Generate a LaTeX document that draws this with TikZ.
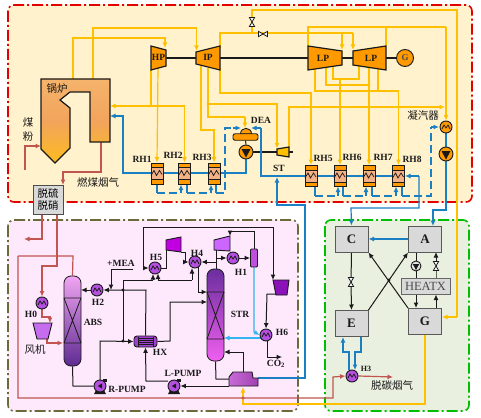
\documentclass[tikz,border=0pt]{standalone}
\usepackage{fontspec}
\setmainfont{Liberation Serif}
\newfontfamily\cjk{Noto Sans CJK SC}
\usetikzlibrary{arrows.meta,calc}
\pgfdeclarelayer{panel}
\pgfdeclarelayer{pipes}
\pgfsetlayers{panel,pipes,main}
\definecolor{yp}{HTML}{FFC000}
\definecolor{bp}{HTML}{1B7FC4}
\definecolor{lbp}{HTML}{33B5F0}
\definecolor{rp}{HTML}{C0564F}
\definecolor{orng}{HTML}{FF9900}
\definecolor{pur}{HTML}{B44FE0}
\definecolor{ink}{HTML}{1A1A1A}
\definecolor{boilA}{HTML}{F5B36B}
\definecolor{boilB}{HTML}{FDBB1F}
\definecolor{boilC}{HTML}{F2A45C}
\definecolor{fanA}{HTML}{C56CEF}
\definecolor{fanB}{HTML}{8A12B8}
\definecolor{compA}{HTML}{C000E0}
\definecolor{compB}{HTML}{CC66FF}
\definecolor{sepc}{HTML}{C04FE0}
\definecolor{hxcol}{HTML}{A040D0}
\definecolor{rebA}{HTML}{C86BD8}
\definecolor{rebB}{HTML}{A040B0}
\definecolor{colP}{HTML}{F0A5F2}
\definecolor{colD}{HTML}{5E2A91}
\definecolor{colE}{HTML}{6B2E9E}
\definecolor{colM}{HTML}{F060F0}
\definecolor{pTop}{HTML}{FFF2CC}
\definecolor{pLeft}{HTML}{FDE8FC}
\definecolor{pRight}{HTML}{E9F0DF}
\definecolor{rhmid}{HTML}{F4B183}
\definecolor{olv}{HTML}{6B6B3A}
\tikzset{
 >={Latex[length=5.5pt,width=5pt]},
 panelbox/.style={line width=1.6pt,rounded corners=6pt,dash pattern=on 11pt off 3pt on 2pt off 3pt},
 ypipe/.style={draw=yp,line width=1.2pt},
 bpipe/.style={draw=bp,line width=1.2pt},
 bdash/.style={draw=bp,line width=1.2pt,dash pattern=on 8pt off 4pt},
 lpipe/.style={draw=lbp,line width=1.2pt},
 rpipe/.style={draw=rp,line width=1.2pt},
 kpipe/.style={draw=ink,line width=1pt},
 lab/.style={font=\bfseries\fontsize{9.5}{10}\selectfont,text=ink,inner sep=0pt},
 cn/.style={font=\cjk\fontsize{10.5}{12}\selectfont,text=ink,inner sep=0pt},
 turb/.style={draw=ink,line width=1.2pt,fill=orng,line join=miter},
 rhbox/.style={draw=ink,line width=1pt,fill=orng,minimum width=12pt,minimum height=21pt,inner sep=0pt},
 hxc/.style={circle,draw=ink,line width=.9pt,minimum size=12pt,inner sep=0pt},
 unit/.style={draw=black!65,line width=1pt,fill=black!15,minimum width=33pt,minimum height=26pt,inner sep=0pt,font=\bfseries\fontsize{13}{14}\selectfont,text=ink},
}
\newcommand{\coil}[1]{\draw[line width=.7pt,ink] ([shift={(-4,2)}]#1.center) -- ++(2,-4) -- ++(2,3) -- ++(2,-3) -- ++(2,4);}
\newcommand{\hexch}[4]{\node[hxc,fill=#4] (#1) at (#2,#3) {};\coil{#1}}
\newcommand{\rhx}[3]{\node[rhbox] (#1) at (#2,#3) {};
 \fill[rhmid,draw=ink,line width=.5pt] ([shift={(-6,-6)}]#1.center) rectangle ([shift={(6,6)}]#1.center);
 \draw[line width=.7pt,ink] ([shift={(-6,2)}]#1.center) -- ++(3,-5) -- ++(2.5,5) -- ++(3,-5) -- ++(2.5,4);}
\newcommand{\vvalve}[3]{\coordinate (#1) at (#2,#3);
 \draw[ink,line width=.8pt,fill=white] ([shift={(-2.6,-4.5)}]#1) -- ++(5.2,0) -- ++(-5.2,9) -- ++(5.2,0) -- cycle;}
\newcommand{\hvalve}[3]{\coordinate (#1) at (#2,#3);
 \draw[ink,line width=.8pt,fill=white] ([shift={(-4.5,-2.6)}]#1) -- ++(0,5.2) -- ++(9,-5.2) -- ++(0,5.2) -- cycle;}
\newcommand{\jn}[3]{\fill[#1] (#2,#3) circle (1.7pt);}
\newcommand{\pumpo}[4]{\node[hxc,minimum size=14pt,fill=#4] (#1) at (#2,#3) {};
 \fill[ink] ([shift={(-4.5,-3)}]#1.center) -- ++(9,0) -- ++(-4.5,8.5) -- cycle;}
\newcommand{\pumpp}[3]{\fill[ink] (#2+3,#3-7) rectangle (#2+7,#3-4);
 \fill[ink] (#2-6,#3+8) -- (#2+6,#3+8) -- (#2+4,#3+4) -- (#2-4,#3+4) -- cycle;
 \node[hxc,fill=pur] (#1) at (#2,#3) {};
 \fill[ink] ([shift={(2,-2.5)}]#1.center) -- ++(0,5) -- ++(-4.2,-2.5) -- cycle;}
\begin{document}
\begin{tikzpicture}[x=1pt,y=-1pt]
\useasboundingbox (0,0) rectangle (481,417);
\begin{pgfonlayer}{panel}
\fill[white] (0,0) rectangle (481,417);
\draw[panelbox,draw=red!90!black,fill=pTop] (8,5) rectangle (472,202);
\draw[panelbox,draw=olv,fill=pLeft] (8,220) rectangle (298,411);
\draw[panelbox,draw=green!75!black,fill=pRight] (325,220) rectangle (469,411);
\end{pgfonlayer}

% ---------- boiler ----------
\draw[draw=ink,line width=1.2pt,top color=boilA,bottom color=boilB,middle color=boilC]
 (41,79) -- (110,79) -- (110,142) -- (90,142) -- (90,92) -- (70,92) -- (60,100) -- (70,108) -- (70,148) -- (55,163) -- (41,149) -- cycle;
\node[cn] (boilerlab) at (57,89) {锅炉};
\node[cn] (coal) at (28,129.5) {\shortstack{煤\\[2pt]粉}};
\coordinate (boilerA) at (73,79);
\coordinate (boilerB) at (93,79);
\coordinate (boilerIn) at (110,106);
\coordinate (boilerW) at (110,116);
\coordinate (boilerC) at (41,146);
\coordinate (coalS) at (25,170);
\coordinate (boilerO) at (101,142);

% ---------- turbines ----------
\draw[turb] (151,46) -- (166,50) -- (166,66) -- (151,70) -- cycle;
\node[lab] (HP) at (158.5,57.5) {HP};
\draw[turb] (196,52) -- (220,46) -- (220,70) -- (196,64) -- cycle;
\node[lab] (IP) at (208,57.5) {IP};
\draw[turb] (308,46) -- (342,51) -- (342,65) -- (308,70) -- cycle;
\node[lab] (LPa) at (323,58) {LP};
\draw[turb] (353,51) -- (386,46) -- (386,70) -- (353,65) -- cycle;
\node[lab] (LPb) at (371,58) {LP};
\node[hxc,minimum size=17pt,fill=orng,font=\bfseries\fontsize{9}{10}\selectfont,text=black!70] (G) at (405,58) {G};
\draw[turb,fill=yp] (277,149) -- (289,147) -- (289,157) -- (277,155) -- cycle;
\coordinate (ST) at (283,152);
\node[lab] (STlab) at (279,168) {ST};

% ---------- regenerators ----------
\rhx{RHa}{157}{173.5}\rhx{RHb}{184.5}{173.5}\rhx{RHc}{214}{173.5}
\rhx{RHe}{311}{176}\rhx{RHf}{340}{176}\rhx{RHg}{369}{176}\rhx{RHh}{398.5}{176}
\node[lab] at (142,159) {RH1};
\node[lab] at (173,155) {RH2};
\node[lab] at (202,157) {RH3};
\node[lab] at (323,158) {RH5};
\node[lab] at (352,157) {RH6};
\node[lab] at (383,157) {RH7};
\node[lab] at (412,159) {RH8};

% ---------- DEA ----------
\draw[draw=ink,line width=.9pt,fill=orng] (240.5,134) .. controls (240.5,126.5) and (251.5,126.5) .. (251.5,134) -- cycle;
\node[draw=ink,line width=.9pt,fill=orng,rounded corners=2pt,minimum width=25pt,minimum height=6.5pt,inner sep=0pt] (DEA) at (245.5,137) {};
\node[lab] (DEAlab) at (261,120) {DEA};
\pumpo{Pa}{246}{152}{orng}
\pumpo{Pb}{446}{154}{orng}
\hexch{COND}{446}{127}{orng}
\node[cn] (condlab) at (423,116) {凝汽器};

% ---------- desulfurisation ----------
\node[draw=black!70,line width=1pt,fill=black!15,minimum width=30pt,minimum height=29pt,inner sep=0pt,
      font=\cjk\fontsize{10.5}{12.5}\selectfont,align=center] (DS) at (48,199.5) {脱硫\\脱硝};
\node[cn] (fluelab) at (98,182) {燃煤烟气};

% ---------- valves ----------
\vvalve{Va}{252}{22}
\hvalve{Vb}{263}{34}
\vvalve{Vc}{351}{282}
\vvalve{Vd}{436}{266}

% ---------- CCS equipment ----------
\node[rounded corners=7pt,draw=ink,line width=.8pt,top color=colP,bottom color=colD,minimum width=17pt,minimum height=90pt,inner sep=0pt] (ABS) at (72.5,321) {};
\draw[ink,line width=.8pt] (64,298) -- (81,298) (64,343) -- (81,343) (64,298) -- (81,343) (81,298) -- (64,343);
\node[lab] (ABSlab) at (93,322) {ABS};
\node[rounded corners=7pt,draw=ink,line width=.8pt,top color=colE,bottom color=colM,minimum width=17pt,minimum height=92pt,inner sep=0pt] (STR) at (215.5,315) {};
\draw[ink,line width=.8pt] (207,292) -- (224,292) (207,339) -- (224,339) (207,292) -- (224,339) (224,292) -- (207,339);
\node[lab] (STRlab) at (240,314) {STR};
\hexch{H0}{42}{303}{pur}
\node[lab] at (31,314) {H0};
\hexch{H2}{97}{290}{pur}
\node[lab] at (98,302) {H2};
\hexch{H5}{155}{268}{pur}
\node[lab] at (156,257) {H5};
\hexch{H4}{195}{262}{pur}
\node[lab] at (197,253) {H4};
\hexch{H1}{233}{258}{pur}
\node[lab] at (241,272) {H1};
\hexch{H6}{266}{335}{pur}
\node[lab] at (282,332) {H6};
\hexch{H3}{352}{376}{pur}
\node[lab,font=\bfseries\fontsize{8}{9}\selectfont] at (366,369) {H3};
\draw[draw=ink,line width=.9pt,fill=fanA] (33,323) -- (52,323) -- (48,339) -- (37,339) -- cycle;
\coordinate (FANa) at (42.5,331);
\node[cn] (fanlab) at (35,350) {风机};
\draw[draw=ink,line width=.9pt,fill=fanB] (273,280) -- (289,280) -- (287,295) -- (276,295) -- cycle;
\coordinate (FANb) at (281,287);
\draw[draw=ink,line width=.9pt,fill=compA] (166,240) -- (181,237) -- (181,252) -- (166,250) -- cycle;
\draw[draw=ink,line width=.9pt,fill=compB] (214,240) -- (230,236) -- (230,251) -- (214,250) -- cycle;
\node[draw=ink,line width=.9pt,fill=sepc,minimum width=7pt,minimum height=18pt,inner sep=0pt,rounded corners=1pt] (SEP) at (254,258) {};
\node[draw=ink,line width=.9pt,fill=hxcol,rounded corners=3pt,minimum width=23pt,minimum height=11pt,inner sep=0pt] (HX) at (145.5,341.5) {};
\draw[ink,line width=.6pt] (138,336.5) -- (138,346.5) (153,336.5) -- (153,346.5) (138,338.5) -- (153,338.5) (138,340.5) -- (153,340.5) (138,342.5) -- (153,342.5) (138,344.5) -- (153,344.5);
\node[lab] (HXlab) at (160,352) {HX};
\pumpp{Rp}{100}{386}
\node[lab] (Rplab) at (127,389) {R-PUMP};
\pumpp{Lp}{174}{386}
\node[lab] (Lplab) at (183,373) {L-PUMP};
\draw[draw=ink,line width=.9pt,left color=rebA,right color=rebB] (229,377) -- (233,372) -- (252,372) -- (253,378) -- (258,378) -- (258,386) -- (229,386) -- cycle;
\coordinate (REB) at (243,379);
\node[lab] (CO2) at (276,364) {CO\textsubscript{2}};
\node[lab] (mea) at (121,263) {+MEA};

% ---------- CO2 units ----------
\node[unit] (C) at (351.5,239) {C};
\node[unit] (A) at (425,239) {A};
\node[unit] (E) at (351.5,323.5) {E};
\node[unit] (Gg) at (425,321.5) {G};
\node[draw=black!60,line width=1pt,fill=black!15,minimum width=49pt,minimum height=16pt,inner sep=0pt,font=\fontsize{12.5}{13}\selectfont,text=black!70] (HEATX) at (425.5,286) {HEATX};
\node[hxc,minimum size=10pt,fill=black!10] (Pc) at (416,266) {};
\fill[ink] (412.8,264) -- (419.2,264) -- (416,270) -- cycle;
\node[cn] (declab) at (392,386) {脱碳烟气};

\begin{pgfonlayer}{pipes}
% ---------- shafts ----------
\draw[kpipe,line width=1.2pt] (166,58) -- (196,58);
\draw[kpipe,line width=1.2pt] (220,58) -- (308,58);
\draw[kpipe,line width=1.2pt] (342,58) -- (353,58);
\draw[kpipe,line width=1.2pt] (386,58) -- (G.west);
\draw[kpipe,line width=1.2pt] (Pa.east) -- (277,152) (289,152) -- (293,152);
\draw[kpipe] (DEA.south) -- (Pa.north);
% ---------- steam (yellow) ----------
\draw[ypipe,->] (boilerA) -- (73,38) -- (165,38) -- (165,48);
\draw[ypipe,->] (boilerB) -- (93,28) -- (196.5,28) -- (196.5,51);
\draw[ypipe] (151,70) -- (151,106);
\draw[ypipe,->] (158,68) -- (RHa.north);
\draw[ypipe,->] (184.5,106) -- (boilerIn);
\draw[ypipe,->] (184.5,106) -- (RHb.north);
\draw[ypipe,->] (201,66) -- (201,130) -- (214,130) -- (RHc.north);
\draw[ypipe] (208,68) -- (208,117) -- (245,117);
\draw[ypipe,->] (245,117) -- (245,128);
\draw[ypipe,->] (208,104) -- (277,104) -- (277,148.5);
\draw[ypipe,->] (220,68) -- (220,93) -- (311,93) -- (RHe.north);
\draw[ypipe] (220,48) -- (220,33) -- (353,33);
\draw[ypipe,->] (342,33) -- (342,50);
\draw[ypipe,->] (353,33) -- (353,50);
\draw[ypipe] (308,46) -- (308,27) -- (446,27);
\draw[ypipe] (386,46) -- (386,27);
\draw[ypipe,->] (446,27) -- (COND.north);
\draw[ypipe] (252,33) -- (Va) -- (252,10) -- (457,10) -- (457,317);
\draw[ypipe,->] (457,317) -- (442,317);
\draw[ypipe] (315,68) -- (315,91) -- (378,91) -- (378,68);
\draw[ypipe] (326,68) -- (326,85) -- (369,85);
\draw[ypipe] (333,66) -- (333,79) -- (359,79) -- (359,66);
\draw[ypipe,->] (340,79) -- (RHf.north);
\draw[ypipe,->] (369,66) -- (RHg.north);
\draw[ypipe,->] (378,91) -- (398.5,91) -- (RHh.north);
\draw[ypipe,->] (289,148) -- (289,107) -- (445,107);
\draw[ypipe,->] (Gg.south) -- (425,404) -- (243,404) -- (243,387);
\jn{yp}{93}{38}\jn{yp}{158}{106}\jn{yp}{208}{104}\jn{yp}{308}{33}
\jn{yp}{340}{85}\jn{yp}{340}{91}\jn{yp}{369}{91}\jn{yp}{369}{85}
\jn{yp}{311}{107}\jn{yp}{340}{107}\jn{yp}{369}{107}\jn{yp}{398.5}{107}
% ---------- water (blue) ----------
\draw[bpipe,->] (Pa.south) -- (246,173) -- (123,173) -- (123,116) -- (boilerW);
\draw[bpipe,->] (419,176) -- (405,176);
\draw[bpipe,->] (419,176) -- (419,208) -- (351,208) -- (C.north);
\draw[bpipe] (405,176) -- (261,176) -- (261,128);
\draw[bpipe,->] (261,128) -- (251,128);
\draw[bpipe,->] (258,378) -- (305,378) -- (305,205) -- (277,205) -- (277,177);
\draw[bpipe] (COND.south) -- (Pb.north);
\draw[bpipe,->] (Pb.south) -- (446,210) -- (433,210) -- (433,226);
\draw[bpipe,->] (A.west) -- (C.east);
% extraction drains, left group
\draw[bpipe] (157,184) -- (157,193);
\draw[bdash] (157,193) -- (181,193);
\draw[bpipe,->] (181,193) -- (181,184.5);
\draw[bpipe] (187,184) -- (187,193);
\draw[bdash] (187,193) -- (211,193);
\draw[bpipe,->] (211,193) -- (211,184.5);
\draw[bpipe] (216,184) -- (216,193);
\draw[bdash] (216,193) -- (225,193) -- (225,128) -- (233,128);
\draw[bpipe,->] (233,128) -- (241,128);
\jn{bp}{225}{173}
% extraction drains, right group
\draw[bpipe] (315,186) -- (315,196);
\draw[bdash] (315,196) -- (338,196);
\draw[bpipe,->] (338,196) -- (338,186.5);
\draw[bpipe] (343,186) -- (343,196);
\draw[bdash] (343,196) -- (366,196);
\draw[bpipe,->] (366,196) -- (366,186.5);
\draw[bpipe] (372,186) -- (372,196);
\draw[bdash] (372,196) -- (396,196);
\draw[bpipe,->] (396,196) -- (396,186.5);
\draw[bpipe] (402,186) -- (402,196);
\draw[bdash] (402,196) -- (431,196) -- (431,127);
\draw[bpipe,->] (431,127) -- (439,127);
% ---------- flue gas (red) ----------
\draw[rpipe,->] (coalS) -- (25,146) -- (boilerC);
\draw[rpipe,->] (boilerO) -- (101,172) -- (63,172) -- (63,185);
\draw[rpipe,->] (42,214) -- (42,239) -- (24,239);
\draw[rpipe,->] (57,214) -- (57,266) -- (42,266) -- (H0.north);
\draw[rpipe] (18,256) -- (73,256) -- (ABS.north);
\draw[rpipe,->] (18,256) -- (18,398) -- (333,398) -- (333,377) -- (H3.west);
\draw[rpipe,->] (H0.south) -- (42,317) -- (50,317) -- (50,323);
\draw[rpipe,->] (47,339) -- (47,343) -- (63,343);
\draw[rpipe,->] (H3.east) -- (393,377);
\jn{rp}{57}{256}\jn{rp}{243}{398}
% ---------- solvent loop (black) ----------
\draw[kpipe] (ABS.south) -- (73,386) -- (Rp.west);
\draw[kpipe,->] (100,380) -- (100,341) -- (HX.west);
\draw[kpipe] (123,341) -- (123,280) -- (153,280);
\draw[kpipe,->] (153,280) -- (153,274);
\draw[kpipe,->] (HX.north) -- (146,290) -- (H2.east);
\draw[kpipe,->] (H2.west) -- (81,290);
\draw[kpipe,->] (133,269) -- (111,269) -- (111,290);
\draw[kpipe,->] (168,381) -- (146,381) -- (HX.south);
\draw[kpipe,->] (229,386) -- (Lp.east);
\draw[kpipe,->] (243,372) -- (243,352) -- (224,352);
\draw[kpipe] (STR.south) -- (216,379) -- (229,379);
\draw[kpipe,->] (HX.east) -- (170,341) -- (170,302) -- (207,302);
\draw[kpipe] (H5.east) -- (166,268) -- (166,250);
\draw[kpipe,->] (181,252) -- (185,252) -- (185,262) -- (H4.west);
\draw[kpipe,->] (192,280) -- (192,268);
\draw[kpipe,->] (192,280) -- (158,280) -- (158,273.5);
\draw[kpipe,->] (216,262) -- (H4.east);
\draw[kpipe] (216,269) -- (216,250);
\draw[kpipe,->] (216,258) -- (H1.west);
\draw[kpipe,->] (H1.east) -- (SEP.west);
\draw[kpipe,->] (SEP.north) -- (254,231) -- (230,231) -- (230,236);
\draw[kpipe,->] (143,268) -- (143,227) -- (273,227) -- (273,280);
\draw[kpipe,->] (143,268) -- (H5.west);
\draw[kpipe,->] (198,267) -- (198,292) -- (207,292);
\draw[kpipe,->] (276,294) -- (267,294) -- (H6.north);
\draw[kpipe,->] (267,341) -- (267,357) -- (282,357);
\draw[lpipe,->] (SEP.south) -- (254,332) -- (H6.west);
\draw[lpipe,->] (262,338) -- (224,338);
\jn{ink}{123}{290}\jn{ink}{123}{341}
% ---------- CO2 unit connectors ----------
\draw[kpipe,->] (C.south) -- (Vc) -- (E.north);
\draw[kpipe,->] (E.north east) -- (A.south west);
\draw[kpipe,->] (Gg.north west) -- (C.south east);
\draw[kpipe] (416,252) -- (Pc.north);
\draw[kpipe] (Pc.south) -- (416,278);
\draw[kpipe,->] (416,294) -- (416,308);
\draw[kpipe,->] (436,308) -- (436,294.5);
\draw[kpipe,->] (436,278) -- (Vd) -- (436,252);
\jn{ink}{389}{280}
\draw[bpipe,->] (349,370) -- (349,352) -- (343,352) -- (343,337);
\draw[bpipe,->] (361,337) -- (361,352) -- (355,352) -- (355,370);
\end{pgfonlayer}
\end{tikzpicture}
\end{document}
